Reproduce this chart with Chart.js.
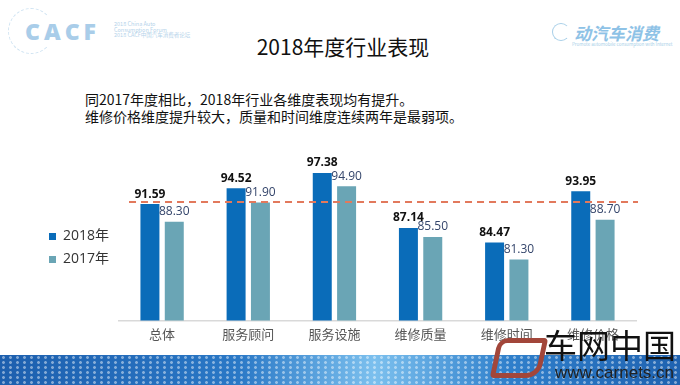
<!DOCTYPE html>
<html>
<head>
<meta charset="utf-8">
<script src="https://cdn.jsdelivr.net/npm/chart.js@4"></script>
<style>
    body { margin: 0; width: 680px; height: 385px; background: #fff; overflow: hidden; position: relative; font-family: "Noto Sans CJK SC", "Noto Sans", sans-serif; }
    .title { position: absolute; left: 0; width: 686px; top: 31px; text-align: center; font-size: 21px; color: #111; }
    .note { position: absolute; left: 85px; top: 91px; font-size: 14px; line-height: 17px; color: #111; white-space: nowrap; }
    #wrap { position: absolute; left: 40px; top: 140px; width: 620px; height: 208px; }
    .band { position: absolute; left: 0; top: 355px; width: 680px; height: 30px;
        background:
            radial-gradient(circle, rgba(255,255,255,0.45) 1.2px, transparent 1.6px) 0 0 / 7px 5px,
            linear-gradient(90deg, #1d5fae 0%, #2a78c6 35%, #7cc0ee 55%, #2f7fcb 75%, #1f62b0 100%); }
    .cacf { position: absolute; left: 25px; top: 15px; color: #a9cde9; font: 800 23px "Open Sans", sans-serif; letter-spacing: 4px; }
    .cacf-sub { position: absolute; left: 114px; top: 22px; color: #b5d3ea; font-size: 5.5px; line-height: 5.6px; white-space: nowrap; }
    .arc { position: absolute; left: 8px; top: 8px; width: 44px; height: 44px; border: 1px dashed #cfe3f2; border-radius: 50%; border-right-color: transparent; }
    .dong { position: absolute; left: 574px; top: 20px; color: #8ec2e6; font-size: 17px; font-weight: bold; font-style: italic; white-space: nowrap; }
    .dong-sub { position: absolute; left: 572px; top: 41px; color: #a8cfe8; font-size: 4.5px; white-space: nowrap; }
    .ring { position: absolute; left: 552px; top: 23px; width: 16px; height: 16px; border: 1.5px solid #a8cfe8; border-radius: 50%; border-right-color: transparent; }
    .wm1 { position: absolute; left: 544px; top: 325px; font-size: 33px; line-height: 38px; color: #111; white-space: nowrap; }
    .wm2 { position: absolute; left: 555px; top: 363px; font: 17px "Liberation Sans", sans-serif; color: #222; white-space: nowrap; }
    .logo { position: absolute; left: 494px; top: 338px; width: 40px; height: 30px; border: 5px solid #a2463a; border-radius: 10px 4px 14px 4px; transform: skewX(-12deg); }
</style>
</head>
<body>
<div class="arc"></div>
<div class="cacf">CACF</div>
<div class="cacf-sub">2018 China Auto<br>Consumption Forum<br>2018 CACF中国汽车消费者论坛</div>
<div class="ring"></div>
<div class="dong">动汽车消费</div>
<div class="dong-sub">Promote automobile consumption with Internet</div>
<div class="title">2018年度行业表现</div>
<div class="note">同2017年度相比，2018年行业各维度表现均有提升。<br>维修价格维度提升较大，质量和时间维度连续两年是最弱项。</div>
<div class="band"></div>
<div id="wrap"><canvas id="chart"></canvas></div>
<div class="logo"></div>
<div class="wm1">车网中国</div>
<div class="wm2">www.carnets.cn</div>
<script>
const categories = ['总体', '服务顾问', '服务设施', '维修质量', '维修时间', '维修价格'];
const values2018 = [91.59, 94.52, 97.38, 87.14, 84.47, 93.95];
const values2017 = [88.30, 91.90, 94.90, 85.50, 81.30, 88.70];
const seriesNames = ['2018年', '2017年'];
const refValue = 92;

// value labels above each bar
const barLabels = {
    id: 'barLabels',
    afterDatasetsDraw(chart) {
        const ctx = chart.ctx;
        ctx.save();
        ctx.textAlign = 'center';
        ctx.textBaseline = 'bottom';
        chart.data.datasets.forEach((ds, i) => {
            const meta = chart.getDatasetMeta(i);
            ctx.font = i === 0 ? 'bold 12px "Open Sans", sans-serif' : '12px "Open Sans", sans-serif';
            ctx.fillStyle = i === 0 ? '#111' : '#34456b';
            meta.data.forEach((bar, j) => {
                ctx.fillText(ds.data[j].toFixed(2), bar.x, bar.y - 4);
            });
        });
        ctx.restore();
    }
};

// dashed reference line
const refLine = {
    id: 'refLine',
    afterDatasetsDraw(chart) {
        const ctx = chart.ctx;
        const y = chart.scales.y.getPixelForValue(refValue);
        ctx.save();
        ctx.strokeStyle = '#e2795c';
        ctx.lineWidth = 2;
        ctx.setLineDash([7, 5]);
        ctx.beginPath();
        ctx.moveTo(chart.chartArea.left + 10, y);
        ctx.lineTo(chart.chartArea.right + 2, y);
        ctx.stroke();
        ctx.restore();
    }
};

const ctx = document.getElementById('chart').getContext('2d');
const chart = new Chart(ctx, {
    type: 'bar',
    data: {
        labels: categories,
        datasets: [{
            label: seriesNames[0], data: values2018,
            backgroundColor: '#0a6cb9', barPercentage: 0.78, categoryPercentage: 0.565
        }, {
            label: seriesNames[1], data: values2017,
            backgroundColor: '#6aa5b5', barPercentage: 0.78, categoryPercentage: 0.565
        }]
    },
    options: {
        responsive: true, maintainAspectRatio: false, animation: false,
        layout: { padding: { top: 8, right: 24 } },
        plugins: {
            tooltip: { enabled: false },
            legend: {
                position: 'left', labels: {
                    boxWidth: 7, boxHeight: 7, padding: 9, color: '#333',
                    font: { size: 14, family: '"Open Sans", "Noto Sans CJK SC", sans-serif' }
                }
            }
        },
        scales: {
            x: {
                grid: { display: false, drawTicks: false },
                border: { color: '#d9d9d9', width: 1.5 },
                ticks: { color: '#555', padding: 6, font: { size: 13, family: '"Noto Sans CJK SC", sans-serif' } }
            },
            y: { display: false, min: 70, max: 102 }
        }
    },
    plugins: [barLabels, refLine]
});
</script>
</body>
</html>
